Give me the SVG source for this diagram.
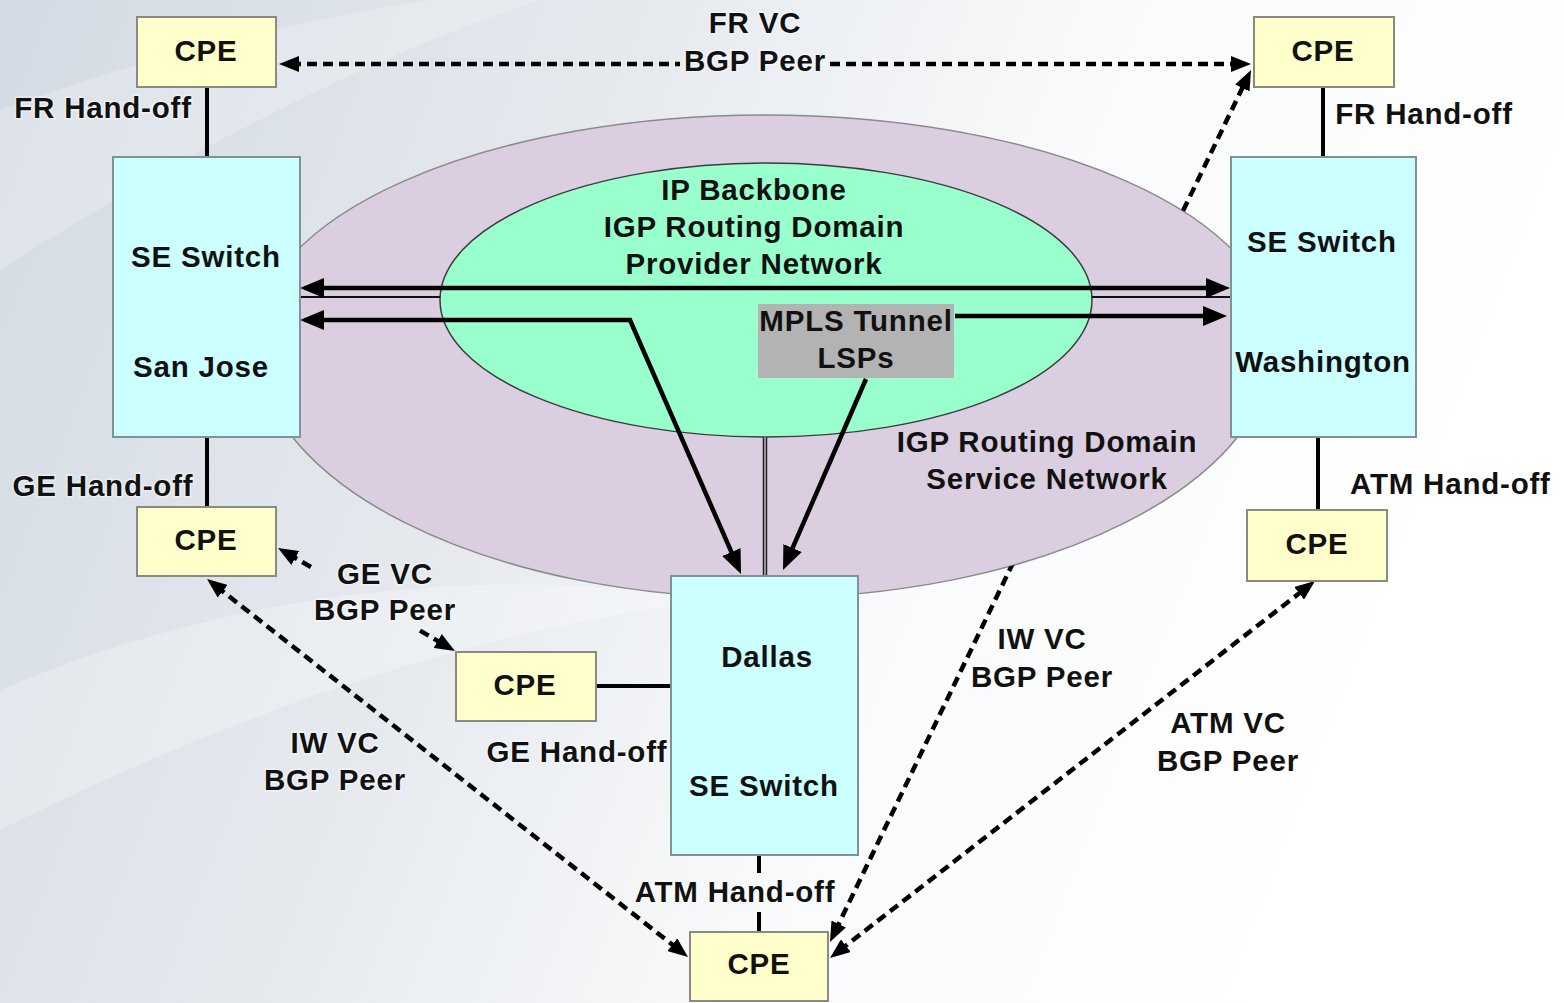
<svg xmlns="http://www.w3.org/2000/svg" width="1564" height="1003" viewBox="0 0 1564 1003">
  <defs>
    <linearGradient id="bg" x1="0" y1="0" x2="1" y2="0.25">
      <stop offset="0" stop-color="#d3dae3"/>
      <stop offset="0.4" stop-color="#e6eaef"/>
      <stop offset="0.68" stop-color="#f9fafb"/>
      <stop offset="1" stop-color="#ffffff"/>
    </linearGradient>
    <!-- hides link segments that run behind the service / backbone regions -->
    <mask id="outsideService" maskUnits="userSpaceOnUse" x="0" y="0" width="1564" height="1003">
      <rect x="0" y="0" width="1564" height="1003" fill="#fff"/>
      <path d="M255,340 A510,225 0 0 1 1275,340 A510,258 0 0 1 255,340 Z" fill="#000"/>
    </mask>
    <mask id="outsideBackbone" maskUnits="userSpaceOnUse" x="0" y="0" width="1564" height="1003">
      <rect x="0" y="0" width="1564" height="1003" fill="#fff"/>
      <ellipse cx="766" cy="300" rx="326" ry="137" fill="#000"/>
    </mask>
    <marker id="head" viewBox="0 0 24 20" refX="10" refY="10" markerWidth="24" markerHeight="20" markerUnits="userSpaceOnUse" orient="auto-start-reverse">
      <path d="M0,0 L24,10 L0,20 Z" fill="#000"/>
    </marker>
    <marker id="headDash" viewBox="0 0 20 16" refX="8" refY="8" markerWidth="20" markerHeight="16" markerUnits="userSpaceOnUse" orient="auto-start-reverse">
      <path d="M0,0 L20,8 L0,16 Z" fill="#000"/>
    </marker>
    <style>
      text { font-family: "Liberation Sans", Arial, sans-serif; font-weight: bold; font-size: 29.5px; letter-spacing: 0.8px; fill: #111; text-anchor: middle; }
      .halo { stroke: #fff; stroke-width: 3px; stroke-opacity: 0.45; paint-order: stroke; }
      .cpe { fill: #ffffcc; stroke: #8a8a80; stroke-width: 2; }
      .switch { fill: #ccffff; stroke: #7f9393; stroke-width: 2; }
      .service { fill: #dccee1; stroke: #8a8a8a; stroke-width: 1.5; }
      .backbone { fill: #99ffcc; stroke: #3c3c3c; stroke-width: 1.5; }
      .lsp { fill: #b3b3b3; }
      .solid { fill: none; stroke: #000; stroke-width: 4.5; marker-start: none; }
      .trunk { fill: none; stroke: #000; stroke-width: 4.5; stroke-linejoin: miter; }
      .handoff { fill: none; stroke: #000; stroke-width: 4; }
      .thin { fill: none; stroke: #111; stroke-width: 2; }
      .vc { fill: none; stroke: #000; stroke-width: 4.5; stroke-dasharray: 10 6; }
    </style>
  </defs>

  <!-- backdrop -->
  <rect x="0" y="0" width="1564" height="1003" fill="url(#bg)"/>
  <path d="M0,110 C150,55 300,20 430,0 L540,0 C360,60 190,150 0,270 Z" fill="#fff" opacity="0.22"/>
  <path d="M0,690 C210,600 460,560 720,600 C500,625 260,700 0,830 Z" fill="#fff" opacity="0.25"/>

  <!-- routing domains -->
  <g id="service-network">
    <path class="service" d="M255,340 A510,225 0 0 1 1275,340 A510,258 0 0 1 255,340 Z"/>
  </g>
  <g id="provider-network">
    <ellipse class="backbone" cx="766" cy="300" rx="326" ry="137"/>
  </g>

  <!-- connectors -->
  <g id="connectors">
    <!-- thin links running under the backbone -->
    <g mask="url(#outsideBackbone)">
      <line class="thin" x1="300" y1="297" x2="1231" y2="297"/>
      <line x1="765" y1="300" x2="765" y2="577" stroke="#222" stroke-width="4.5"/>
      <line x1="765" y1="300" x2="765" y2="577" stroke="#d8cade" stroke-width="1.3"/>
    </g>
    <!-- LSP trunks -->
    <line class="trunk" x1="314" y1="288" x2="1216" y2="288" marker-start="url(#head)" marker-end="url(#head)"/>
    <path class="trunk" d="M314,320 L630,320 L735.4,561.2" marker-start="url(#head)" marker-end="url(#head)"/>
    <line class="trunk" x1="955" y1="316" x2="1213" y2="316" marker-end="url(#head)"/>
    <line class="trunk" x1="866" y1="379" x2="788.6" y2="557.2" marker-end="url(#head)"/>

    <!-- hand-off links -->
    <line class="handoff" x1="207" y1="87" x2="207" y2="157"/>
    <line class="handoff" x1="207" y1="437" x2="207" y2="507"/>
    <line class="handoff" x1="1323" y1="87" x2="1323" y2="157"/>
    <line class="handoff" x1="1318" y1="437" x2="1318" y2="510"/>
    <line class="handoff" x1="596" y1="686" x2="671" y2="686" stroke-width="2.5"/>
    <line class="handoff" x1="759" y1="855" x2="759" y2="873"/>
    <line class="handoff" x1="759" y1="912" x2="759" y2="932"/>

    <!-- BGP peering VCs -->
    <line class="vc" x1="291" y1="64" x2="680" y2="64" marker-start="url(#headDash)"/>
    <line class="vc" x1="830" y1="64" x2="1239" y2="64" marker-end="url(#headDash)"/>
    <line class="vc" x1="835.2" y1="931.2" x2="1245.8" y2="80.8" marker-start="url(#headDash)" marker-end="url(#headDash)" mask="url(#outsideService)"/>
    <line class="vc" x1="839.5" y1="950.6" x2="1305.5" y2="588.4" marker-start="url(#headDash)" marker-end="url(#headDash)"/>
    <line class="vc" x1="216.4" y1="586.4" x2="678.6" y2="949.6" marker-start="url(#headDash)" marker-end="url(#headDash)"/>
    <line class="vc" x1="288.4" y1="554" x2="316" y2="570" marker-start="url(#headDash)"/>
    <line class="vc" x1="420" y1="630.6" x2="444.6" y2="645" marker-end="url(#headDash)"/>
  </g>

  <!-- LSP label box -->
  <g id="mpls-lsps">
    <rect class="lsp" x="758" y="304" width="196" height="74"/>
    <text x="856" y="331">MPLS Tunnel</text>
    <text x="856" y="368">LSPs</text>
  </g>

  <!-- switches -->
  <g id="san-jose">
    <rect class="switch" x="113" y="157" width="187" height="280"/>
    <text x="206" y="267">SE Switch</text>
    <text x="201" y="377">San Jose</text>
  </g>
  <g id="washington">
    <rect class="switch" x="1231" y="157" width="185" height="280"/>
    <text x="1322" y="252">SE Switch</text>
    <text x="1323" y="372">Washington</text>
  </g>
  <g id="dallas">
    <rect class="switch" x="671" y="576" width="187" height="279"/>
    <text x="767" y="667">Dallas</text>
    <text x="764" y="796">SE Switch</text>
  </g>

  <!-- customer premises equipment -->
  <g id="cpe-fr-sj">
    <rect class="cpe" x="137" y="17" width="139" height="70"/>
    <text x="206" y="61">CPE</text>
  </g>
  <g id="cpe-fr-wa">
    <rect class="cpe" x="1254" y="17" width="140" height="70"/>
    <text x="1323" y="61">CPE</text>
  </g>
  <g id="cpe-ge-sj">
    <rect class="cpe" x="137" y="507" width="139" height="69"/>
    <text x="206" y="550">CPE</text>
  </g>
  <g id="cpe-atm-wa">
    <rect class="cpe" x="1247" y="510" width="140" height="71"/>
    <text x="1317" y="554">CPE</text>
  </g>
  <g id="cpe-ge-dallas">
    <rect class="cpe" x="456" y="652" width="140" height="69"/>
    <text x="525" y="695">CPE</text>
  </g>
  <g id="cpe-atm-dallas">
    <rect class="cpe" x="690" y="932" width="138" height="69"/>
    <text x="759" y="974">CPE</text>
  </g>

  <!-- region labels -->
  <g id="region-labels">
    <text x="754" y="200">IP Backbone</text>
    <text x="754" y="237">IGP Routing Domain</text>
    <text x="754" y="274">Provider Network</text>
    <text x="1047" y="452">IGP Routing Domain</text>
    <text x="1047" y="489">Service Network</text>
  </g>

  <!-- link labels -->
  <g id="link-labels" class="halo">
    <text class="halo" x="755" y="33">FR VC</text>
    <text class="halo" x="755" y="71">BGP Peer</text>
    <text class="halo" x="103" y="118">FR Hand-off</text>
    <text class="halo" x="1424" y="124">FR Hand-off</text>
    <text class="halo" x="103" y="496">GE Hand-off</text>
    <text class="halo" x="1350" y="494" style="text-anchor:start">ATM Hand-off</text>
    <text class="halo" x="385" y="584">GE VC</text>
    <text class="halo" x="385" y="620">BGP Peer</text>
    <text class="halo" x="335" y="753">IW VC</text>
    <text class="halo" x="335" y="790">BGP Peer</text>
    <text class="halo" x="1042" y="649">IW VC</text>
    <text class="halo" x="1042" y="687">BGP Peer</text>
    <text class="halo" x="1228" y="733">ATM VC</text>
    <text class="halo" x="1228" y="771">BGP Peer</text>
    <text class="halo" x="577" y="762">GE Hand-off</text>
    <text class="halo" x="735" y="902">ATM Hand-off</text>
  </g>
</svg>
